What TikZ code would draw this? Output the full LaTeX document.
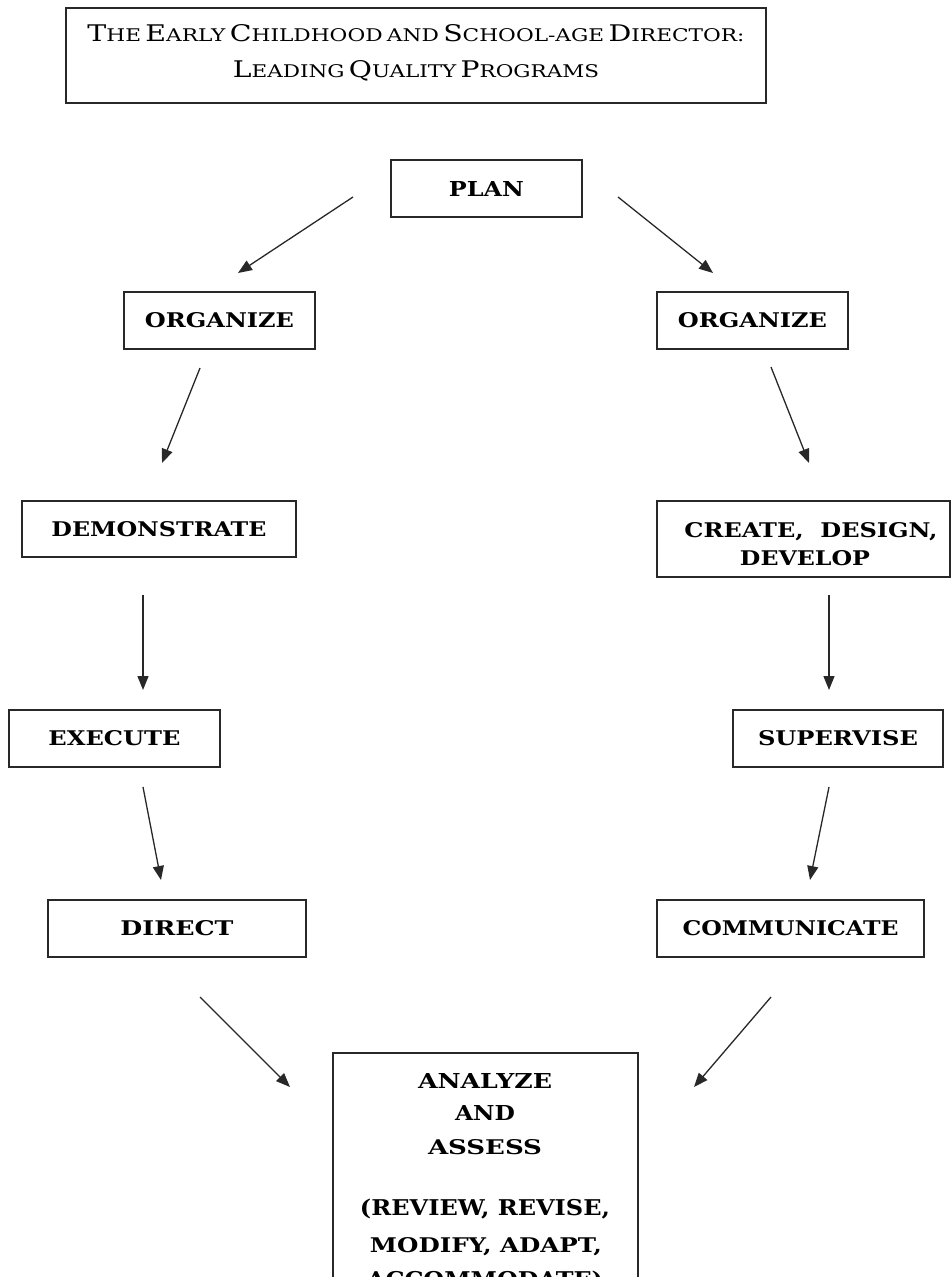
\documentclass[tikz,border=0pt]{standalone}
\usepackage{fontspec}
\usepackage{graphicx}
\usetikzlibrary{arrows.meta}
\newfontfamily\lblfont{DejaVu Serif}
\definecolor{boxgray}{RGB}{40,40,40}
\newcommand\lbl[3][15pt]{\resizebox{#2}{#1}{\lblfont\bfseries #3}}
\newcommand\BC[1]{{\fontsize{21}{21}\selectfont #1}}
\newcommand\SC[1]{{\fontsize{16}{16}\selectfont #1}}
\begin{document}
\begin{tikzpicture}[x=1pt,y=-1pt,
  box/.style={draw=boxgray, line width=1.5pt, inner sep=0pt},
  txt/.style={inner sep=0pt, anchor=base},
  arr/.style={draw=boxgray, line width=1.3pt, -{Triangle[length=14pt,width=11pt]}}]
\fill[white] (0,0) rectangle (952,1277);
\useasboundingbox (0,0) rectangle (952,1277);

% title
\node[box, minimum width=700pt, minimum height=95pt] (title) at (416,55.5) {};
\node[txt] (t1) at (416,41) {\resizebox{657pt}{17pt}{\lblfont \BC{T}\SC{HE} \BC{E}\SC{ARLY} \BC{C}\SC{HILDHOOD} \SC{AND} \BC{S}\SC{CHOOL-AGE} \BC{D}\SC{IRECTOR:}}};
\node[txt] (t2) at (416,77) {\resizebox{366pt}{17pt}{\lblfont \BC{L}\SC{EADING} \BC{Q}\SC{UALITY} \BC{P}\SC{ROGRAMS}}};

% boxes
\node[box, minimum width=191pt, minimum height=57pt] (plan) at (486.5,188.5) {\lbl{75pt}{PLAN}};
\node[box, minimum width=191pt, minimum height=57pt] (orgL) at (219.5,320.5) {\lbl{149pt}{ORGANIZE}};
\node[box, minimum width=191pt, minimum height=57pt] (orgR) at (752.5,320.5) {\lbl{149pt}{ORGANIZE}};
\node[box, minimum width=274pt, minimum height=56pt] (demo) at (159,529) {\lbl{215pt}{DEMONSTRATE}};
\node[box, minimum width=293pt, minimum height=76pt] (create) at (803.5,539) {};
\node[txt] (create1) at (811,537) {\lbl{253pt}{CREATE, \ DESIGN,}};
\node[txt] (create2) at (805,565) {\lbl{130pt}{DEVELOP}};
\node[box, minimum width=211pt, minimum height=57pt] (execute) at (114.5,738.5) {\lbl{132pt}{EXECUTE}};
\node[box, minimum width=210pt, minimum height=57pt] (supervise) at (838,738.5) {\lbl{160pt}{SUPERVISE}};
\node[box, minimum width=258pt, minimum height=57pt] (direct) at (177,928.5) {\lbl{113pt}{DIRECT}};
\node[box, minimum width=267pt, minimum height=57pt] (communicate) at (790.5,928.5) {\lbl{216pt}{COMMUNICATE}};
\node[box, minimum width=305pt, minimum height=300pt] (analyze) at (485.5,1203) {};
\node[txt] (a1) at (485,1088) {\lbl{134pt}{ANALYZE}};
\node[txt] (a2) at (485,1120) {\lbl{60pt}{AND}};
\node[txt] (a3) at (485,1154) {\lbl{114pt}{ASSESS}};
\node[txt] (a4) at (485,1215) {\lbl[16.5pt]{250pt}{(REVIEW, REVISE,}};
\node[txt] (a5) at (486,1252) {\lbl{232pt}{MODIFY, ADAPT,}};
\node[txt] (a6) at (485,1287) {\lbl[16.5pt]{236pt}{ACCOMMODATE)}};

% arrow end points
\coordinate (p1s) at (353,197);  \coordinate (p1e) at (238,273);
\coordinate (p2s) at (618,197);  \coordinate (p2e) at (713,273);
\coordinate (p3s) at (200,368);  \coordinate (p3e) at (162,463);
\coordinate (p4s) at (771,367);  \coordinate (p4e) at (809,463);
\coordinate (p5s) at (143,595);  \coordinate (p5e) at (143,690);
\coordinate (p6s) at (829,595);  \coordinate (p6e) at (829,690);
\coordinate (p7s) at (143,787);  \coordinate (p7e) at (161,880);
\coordinate (p8s) at (829,787);  \coordinate (p8e) at (810,880);
\coordinate (p9s) at (200,997);  \coordinate (p9e) at (290,1087);
\coordinate (p10s) at (771,997); \coordinate (p10e) at (694,1087);

\foreach \i in {1,...,10} { \draw[arr] (p\i s) -- (p\i e); }
\end{tikzpicture}
\end{document}
